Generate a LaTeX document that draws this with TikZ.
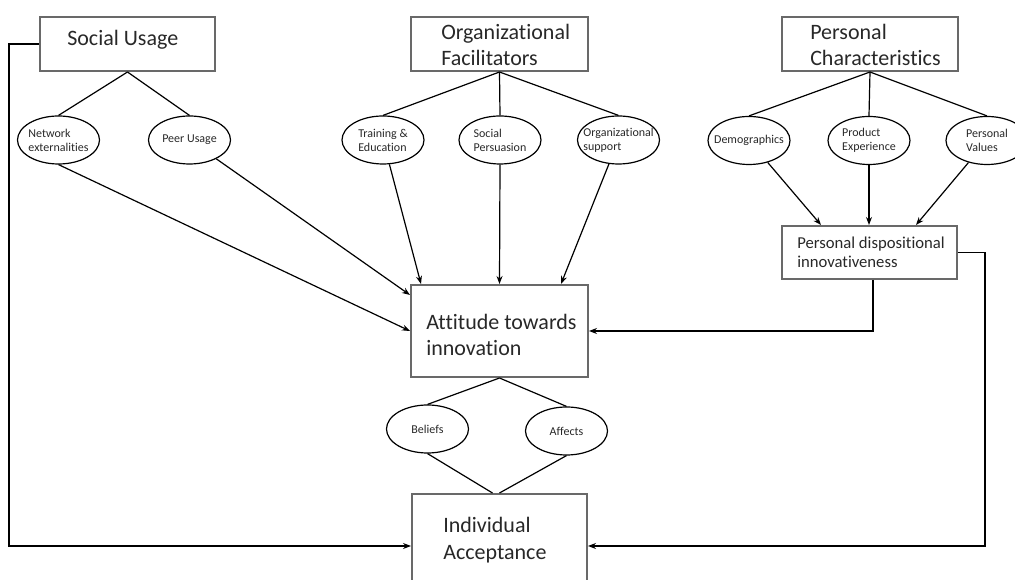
\documentclass[tikz,border=0pt]{standalone}
\usepackage{fontspec}
\setmainfont{Carlito}[Ligatures=NoCommon]
\usetikzlibrary{shapes.geometric,arrows.meta,calc}
\definecolor{boxgray}{RGB}{105,105,105}
\definecolor{txt}{RGB}{40,40,40}
\tikzset{
  box/.style={draw=boxgray, line width=1.5pt, rectangle, inner sep=0pt},
  btext/.style={anchor=west, align=left, inner sep=0pt, text=txt, font=\fontsize{16.5}{20}\selectfont},
  ptext/.style={anchor=west, align=left, inner sep=0pt, text=txt, font=\fontsize{12.5}{14}\selectfont},
  ell/.style={draw, ellipse, line width=0.9pt, minimum width=61.5pt, minimum height=36pt, inner sep=0pt},
  etext/.style={align=left, inner sep=0pt, text=txt, font=\fontsize{9}{10.5}\selectfont},
  con/.style={line width=0.9pt},
  arr/.style={con, -{Stealth[length=6pt,width=4.5pt]}}
}
\begin{document}
\begin{tikzpicture}[x=0.75pt,y=-0.75pt]
\useasboundingbox (0,0) rectangle (1015,580);
\clip (0,0) rectangle (1015,580);
% boxes
\node[box, minimum width=131.25pt, minimum height=40.5pt] (su) at (127.5,44) {};
\node[btext] (sut) at (67,40) {Social Usage};
\node[box, minimum width=132.75pt, minimum height=40.5pt] (of) at (499.5,44) {};
\node[btext] (oft) at (441,45) {Organizational\\Facilitators};
\node[box, minimum width=132pt, minimum height=40.5pt] (pc) at (870,44) {};
\node[btext] (pct) at (810,45) {Personal\\Characteristics};
\node[box, minimum width=131.25pt, minimum height=39.75pt] (pdi) at (869.5,252.5) {};
\node[ptext] (pdit) at (797,252) {Personal dispositional\\innovativeness};
\node[box, minimum width=132.75pt, minimum height=69pt] (ati) at (499.5,331) {};
\node[btext] (atit) at (426,335) {Attitude towards\\innovation};
\node[box, minimum width=131.25pt, minimum height=69pt] (ia) at (499.5,540) {};
\node[btext] (iat) at (443,540) {Individual\\Acceptance};
% ellipses
\node[ell] (ne) at (58.5,140) {};
\node[etext] (net) at (ne) {Network\\externalities};
\node[ell] (pu) at (189.5,140) {};
\node[etext] (put) at (pu) {Peer Usage};
\node[ell] (te) at (383,140) {};
\node[etext] (tet) at (te) {Training \&\\Education};
\node[ell] (sp) at (500,140) {};
\node[etext] (spt) at (sp) {Social\\Persuasion};
\node[ell] (os) at (618.5,140) {};
\node[etext] (ost) at (os) {Organizational\\support};
\node[ell] (dem) at (749,140.5) {};
\node[etext] (demt) at (dem) {Demographics};
\node[ell] (pe) at (869,140.5) {};
\node[etext] (pet) at (pe) {Product\\Experience};
\node[ell] (pv) at (987,140.5) {};
\node[etext] (pvt) at (pv) {Personal\\Values};
\node[ell] (bel) at (427.5,429) {};
\node[etext] (belt) at (bel) {Beliefs};
\node[ell] (aff) at (566.5,431) {};
\node[etext] (afft) at (aff) {Affects};
% helper coordinates
\coordinate (atiw1) at ($(ati.north west)+(0,11)$);
\coordinate (atin1) at ($(ati.north west)+(11,0)$);
\coordinate (atin3) at ($(ati.north west)+(151,0)$);
\coordinate (pdin1) at ($(pdi.north west)+(40,0)$);
\coordinate (pdin3) at ($(pdi.north west)+(135,0)$);
\coordinate (pdis) at ($(pdi.south)+(3.5,0)$);
\coordinate (iaw) at ($(ia.north west)+(0,53)$);
\coordinate (iae) at ($(ia.north east)+(0,53)$);
\coordinate (ian1) at ($(ia.north)+(-7,0)$);
\coordinate (lc) at ($(su.west)+(-30,0)$);
\coordinate (rc) at ($(pdi.east)+(27,0)$);
% tree lines
\draw[con] (su.south) -- (ne.north);
\draw[con] (su.south) -- (pu.north);
\draw[con] (of.south) -- (te.north);
\draw[con] (of.south) -- (sp.north);
\draw[con] (of.south) -- (os.north);
\draw[con] (pc.south) -- (dem.north);
\draw[con] (pc.south) -- (pe.north);
\draw[con] (pc.south) -- (pv.north);
\draw[con] (ati.south) -- (bel.north);
\draw[con] (ati.south) -- (aff.north);
\draw[con] (bel.south) -- (ian1);
\draw[con] (aff.south) -- (ia.north);
% arrows
\draw[arr] (ne.south) -- (ati.west);
\draw[arr] (pu) -- (atiw1);
\draw[arr] (te) -- (atin1);
\draw[arr] (sp.south) -- (ati.north);
\draw[arr] (os) -- (atin3);
\draw[arr] (dem) -- (pdin1);
\draw[arr] (pe.south) -- (pe.south |- pdi.north);
\draw[arr] (pv) -- (pdin3);
\draw[arr] (pdis) |- (ati.east);
\draw[arr] (pdi.east) -- (rc) -- (rc |- iae) -- (iae);
\draw[arr] (su.west) -- (lc) -- (lc |- iaw) -- (iaw);
\end{tikzpicture}
\end{document}
